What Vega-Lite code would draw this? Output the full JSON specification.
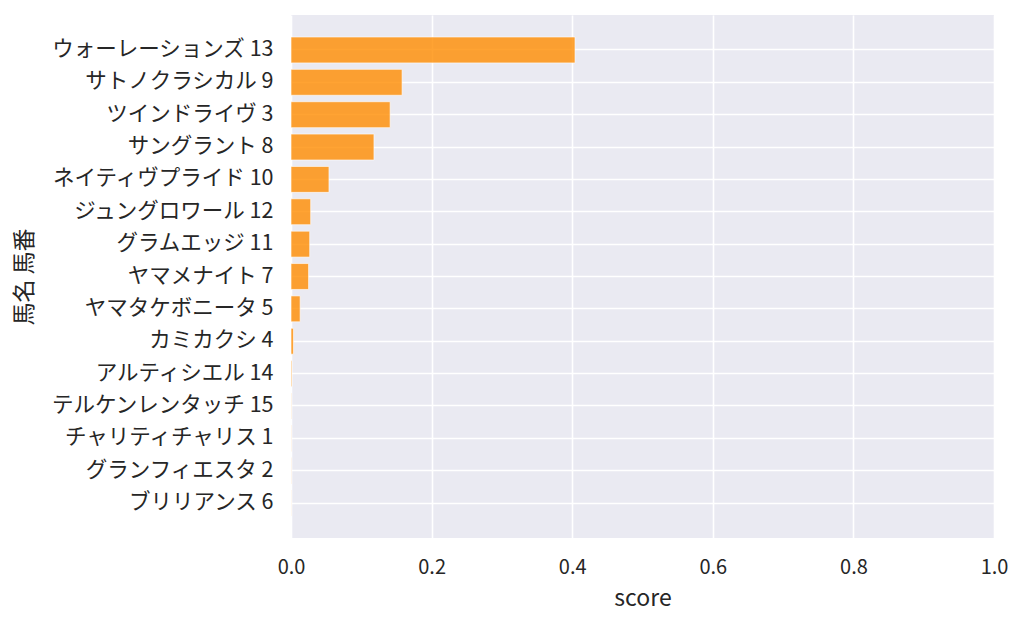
{
  "$schema": "https://vega.github.io/schema/vega-lite/v6.json",
  "width": 703,
  "height": 523,
  "autosize": "none",
  "padding": {"left": 291, "top": 15, "right": 30, "bottom": 89},
  "background": "#ffffff",
  "data": {
    "values": [
      {"name": "ウォーレーションズ 13", "score": 0.404},
      {"name": "サトノクラシカル 9", "score": 0.158},
      {"name": "ツインドライヴ 3", "score": 0.141},
      {"name": "サングラント 8", "score": 0.118},
      {"name": "ネイティヴプライド 10", "score": 0.054},
      {"name": "ジュングロワール 12", "score": 0.028},
      {"name": "グラムエッジ 11", "score": 0.0266},
      {"name": "ヤマメナイト 7", "score": 0.025},
      {"name": "ヤマタケボニータ 5", "score": 0.013},
      {"name": "カミカクシ 4", "score": 0.0035},
      {"name": "アルティシエル 14", "score": 0.0012},
      {"name": "テルケンレンタッチ 15", "score": 0.0004},
      {"name": "チャリティチャリス 1", "score": 0.0003},
      {"name": "グランフィエスタ 2", "score": 0.0003},
      {"name": "ブリリアンス 6", "score": 0.0002}
    ]
  },
  "mark": {
    "type": "bar",
    "fill": "#ff8c00",
    "fillOpacity": 0.8,
    "stroke": "#ffffff",
    "strokeOpacity": 0.6,
    "strokeWidth": 1
  },
  "encoding": {
    "x": {
      "field": "score",
      "type": "quantitative",
      "scale": {"domain": [0, 1], "nice": false},
      "axis": {
        "values": [0, 0.2, 0.4, 0.6, 0.8, 1.0],
        "format": ".1f",
        "title": "score",
        "labelFlush": false,
        "labelFontSize": 20,
        "labelPadding": 19,
        "titlePadding": 10
      }
    },
    "y": {
      "field": "name",
      "type": "nominal",
      "sort": null,
      "scale": {"paddingInner": 0.2, "paddingOuter": 0.68},
      "axis": {
        "title": "馬名 馬番",
        "bandPosition": 0.5,
        "labelFontSize": 21.5,
        "labelPadding": 18,
        "titlePadding": 55,
        "labelLimit": 400
      }
    }
  },
  "config": {
    "view": {"fill": "#eaeaf2", "stroke": null},
    "font": "Noto Sans CJK JP",
    "axis": {
      "domain": false,
      "ticks": false,
      "grid": true,
      "gridColor": "#ffffff",
      "gridWidth": 1.6,
      "labelFont": "Noto Sans CJK JP",
      "labelColor": "#262626",
      "titleFont": "Noto Sans CJK JP",
      "titleFontSize": 23,
      "titleFontWeight": "normal",
      "titleColor": "#262626"
    }
  }
}
